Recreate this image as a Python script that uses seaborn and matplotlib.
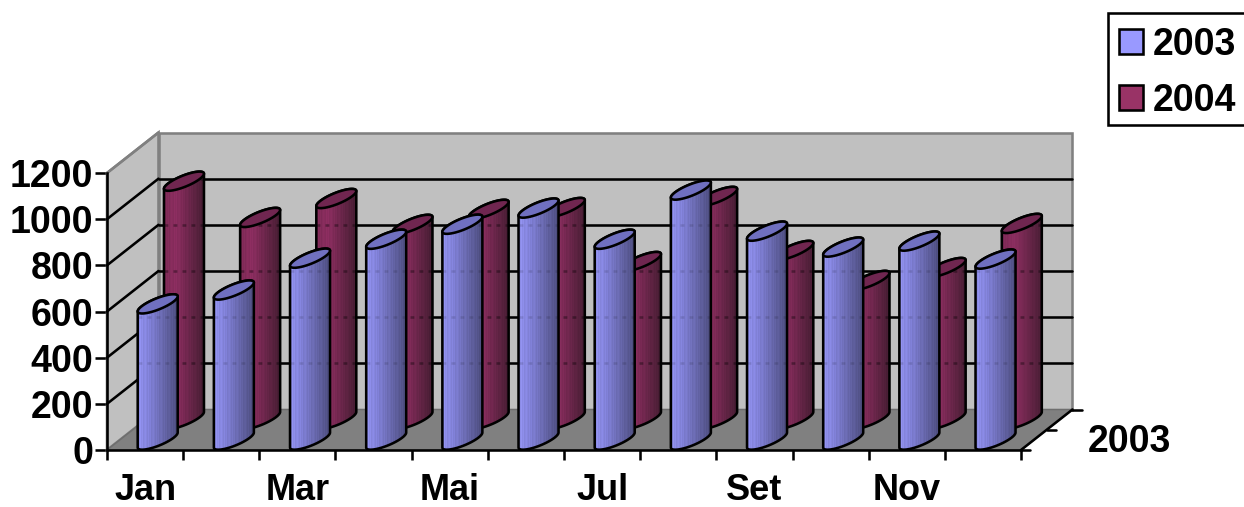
import numpy as np
import pandas as pd
import matplotlib
matplotlib.use("Agg")
import matplotlib.pyplot as plt
from matplotlib.patches import Patch, PathPatch, Polygon, Rectangle
from matplotlib.path import Path
from matplotlib.transforms import Affine2D
import seaborn as sns

months = ["Jan", "Fev", "Mar", "Abr", "Mai", "Jun", "Jul", "Ago", "Set", "Out", "Nov", "Dez"]
sales_2003 = [590, 650, 788, 870, 935, 1005, 870, 1083, 905, 836, 862, 784]
sales_2004 = [1032, 875, 957, 845, 910, 918, 684, 966, 732, 602, 658, 849]
y_ticks = [0, 200, 400, 600, 800, 1000, 1200]
series_labels = ["2003", "2004"]

W, H, DPI = 1244, 507, 100
LEFT, RIGHT, BASE, TOP = 107, 1021, 450, 173       # front plane, pixels from top-left
DEPTH = np.array([51.5, 40.5])                     # oblique depth vector (right, up)
RADIUS_X, CAP_SHEAR, CAP_MINOR = 20.0, 7.5, 6.0
LW = 1.85
FONT = 27

sns.set_style("white")
plt.rcParams["font.family"] = ["Liberation Sans", "DejaVu Sans"]
plt.rcParams["font.weight"] = "bold"
plt.rcParams["text.color"] = "black"

fig = plt.figure(figsize=(W / DPI, H / DPI), dpi=DPI)
ax = fig.add_axes([LEFT / W, 1 - BASE / H, (RIGHT - LEFT) / W, (BASE - TOP) / H])
ax.patch.set_visible(False)


def depth_shift(frac):
    """Data-to-display transform pushed back along the depth axis."""
    return ax.transData + Affine2D().translate(*(DEPTH * frac))


def set_limits():
    ax.set_xlim(-0.5, 11.5)
    ax.set_ylim(0, 1200)


set_limits()

# Walls and floor of the oblique box
back = depth_shift(1.0)
GREY_WALL, GREY_FLOOR, GREY_EDGE = "#C0C0C0", "#808080", "#808080"
ax.add_patch(Polygon([(-0.5, 0), (11.5, 0), (11.5, 1200), (-0.5, 1200)], transform=back,
                     fc=GREY_WALL, ec=GREY_EDGE, lw=LW, zorder=1, clip_on=False))


def corner(x, y, f):
    return ax.transData.transform((x, y)) + DEPTH * f


ax.add_patch(Polygon([corner(-0.5, 0, 0), corner(-0.5, 0, 1), corner(-0.5, 1200, 1), corner(-0.5, 1200, 0)],
                     transform=None, fc=GREY_WALL, ec=GREY_EDGE, lw=LW, zorder=1, clip_on=False))
ax.add_patch(Polygon([corner(-0.5, 0, 0), corner(11.5, 0, 0), corner(11.5, 0, 1), corner(-0.5, 0, 1)],
                     transform=None, fc=GREY_FLOOR, ec="#6e6e6e", lw=LW * 0.6, zorder=1.1, clip_on=False))

# Gridlines across the back wall and the left wall
for v in y_ticks[1:-1]:
    ax.plot([-0.5, 11.5], [v, v], color="black", lw=LW, transform=back, zorder=1.5, clip_on=False)
    a, b = corner(-0.5, v, 0), corner(-0.5, v, 1)
    ax.plot([a[0], b[0]], [a[1], b[1]], color="black", lw=LW, transform=None, zorder=1.5, clip_on=False)
# The top of the left wall closes the box in grey
a, b = corner(-0.5, 1200, 0), corner(-0.5, 1200, 1)
ax.plot([a[0], b[0]], [a[1], b[1]], color=GREY_EDGE, lw=LW, transform=None, zorder=1.6, clip_on=False)


def column_shades(left, mid, right):
    """Horizontal shading across one cylinder, with fine vertical banding."""
    stops = np.array([left, mid, right], dtype=float) / 255
    t = np.linspace(0, 1, 40)
    rgb = np.stack([np.interp(t, [0, 0.3, 1], stops[:, c]) for c in range(3)], axis=1)
    banding = np.array([1.0, 0.97, 1.03, 0.98, 1.02, 0.96, 1.0, 1.03])
    rgb = rgb * banding[np.arange(40) % 8][:, None]
    return np.clip(rgb, 0, 1)[None, :, :]


def cap_points(cx, cy, t):
    return np.column_stack([cx + RADIUS_X * np.cos(t),
                            cy + CAP_SHEAR * np.cos(t) + CAP_MINOR * np.sin(t)])


def draw_cylinders(values, frac, base_color, shades, cap_color, zorder, grid_alpha):
    frame = pd.DataFrame({"mes": months, "valor": values})
    sns.barplot(data=frame, x="mes", y="valor", order=months, width=0.525, color=base_color,
                saturation=1, ax=ax, zorder=zorder, legend=False)
    set_limits()
    bars = ax.containers[-1]
    shift = depth_shift(frac)
    for rect in bars:
        xc = rect.get_x() + rect.get_width() / 2
        value = rect.get_height()
        cx, y_base = shift.transform((xc, 0))
        _, y_top = shift.transform((xc, value))
        lower = cap_points(cx, y_base, np.linspace(np.pi, 2 * np.pi, 40))
        upper_side = cap_points(cx, y_top, np.linspace(0, np.pi, 40))
        outline = np.vstack([lower, upper_side, lower[:1]])
        body = PathPatch(Path(outline, closed=True), transform=None, fc="none", ec="black",
                         lw=LW, zorder=zorder + 0.3, clip_on=False, joinstyle="round")
        ax.add_patch(body)
        rect.set_transform(shift)
        rect.set_linewidth(0)
        rect.set_clip_path(body)
        image = ax.imshow(shades, aspect="auto", interpolation="bilinear",
                          extent=(cx - RADIUS_X, cx + RADIUS_X, y_base - 20, y_top + 20),
                          transform=Affine2D(), zorder=zorder + 0.1, origin="lower")
        image.set_clip_path(body)
        image.set_clip_box(fig.bbox)
        # Gridlines faintly visible through the column
        for v in y_ticks[1:-1]:
            if v < value:
                _, gy = back.transform((0, v))
                seg = ax.plot([cx - RADIUS_X, cx + RADIUS_X], [gy, gy], color="black", lw=LW,
                              ls=(0, (1.5, 2)), alpha=grid_alpha, transform=None,
                              zorder=zorder + 0.2)[0]
                seg.set_clip_path(body)
                seg.set_clip_box(fig.bbox)
        cap = cap_points(cx, y_top, np.linspace(0, 2 * np.pi, 80))
        ax.add_patch(Polygon(cap, closed=True, transform=None, fc=cap_color, ec="black", lw=LW,
                             zorder=zorder + 0.4, clip_on=False))
    set_limits()


draw_cylinders(sales_2004, 0.755, "#993366", column_shades((126, 42, 86), (140, 46, 96), (72, 30, 52)),
               "#702650", 3, 0.35)
draw_cylinders(sales_2003, 0.245, "#9999FF", column_shades((146, 146, 240), (128, 128, 214), (78, 78, 128)),
               "#7070C0", 5, 0.12)
set_limits()

# Axes, ticks and tick labels
for side in ("top", "right"):
    ax.spines[side].set_visible(False)
for side in ("left", "bottom"):
    ax.spines[side].set_visible(True)
    ax.spines[side].set_color("black")
    ax.spines[side].set_linewidth(LW)
    ax.spines[side].set_zorder(8)
ax.set_xlabel("")
ax.set_ylabel("")
ax.set_yticks(y_ticks)
ax.set_yticklabels([str(v) for v in y_ticks], fontsize=FONT, fontweight="bold")
ax.tick_params(axis="y", left=True, length=8.5, width=LW, pad=1.5, color="black", labelcolor="black")
ax.set_xticks(np.arange(-0.5, 12, 1))
ax.set_xticklabels([])
ax.tick_params(axis="x", which="major", bottom=True, length=7.5, width=LW, color="black")
ax.set_xticks(np.arange(0, 12, 2), minor=True)
ax.set_xticklabels(months[::2], minor=True, fontsize=26, fontweight="bold")
ax.tick_params(axis="x", which="minor", bottom=False, length=0, pad=16.5, labelcolor="black")

# Depth axis on the right of the floor
p0, p1 = corner(11.5, 0, 0), corner(11.5, 0, 1)
ax.plot([p0[0], p1[0]], [p0[1], p1[1]], color="black", lw=LW, transform=None, zorder=8, clip_on=False)
for f in (0, 0.5, 1):
    q = corner(11.5, 0, f)
    ax.plot([q[0], q[0] + 9.5], [q[1], q[1]], color="black", lw=LW, transform=None, zorder=8, clip_on=False)
fig.text(1129 / W, 1 - 442 / H, series_labels[0], fontsize=FONT, fontweight="bold", ha="center", va="center")

# Legend box runs off the right edge of the figure
fig.add_artist(Rectangle((1107.5, H - 124.5), 150, 112, transform=None, fc="white", ec="black", lw=LW))
handles = [Patch(fc="#9999FF", ec="black", lw=LW), Patch(fc="#993366", ec="black", lw=LW)]
legend = fig.legend(handles, series_labels, loc="upper left", bbox_to_anchor=(1118.5 / W, 1 - 27 / H),
                    bbox_transform=fig.transFigure, fontsize=FONT, frameon=False, borderpad=0,
                    labelspacing=0.53, handlelength=0.66, handleheight=0.66, handletextpad=0.24,
                    borderaxespad=0)

fig.savefig("out.png", dpi=DPI, facecolor="white")
